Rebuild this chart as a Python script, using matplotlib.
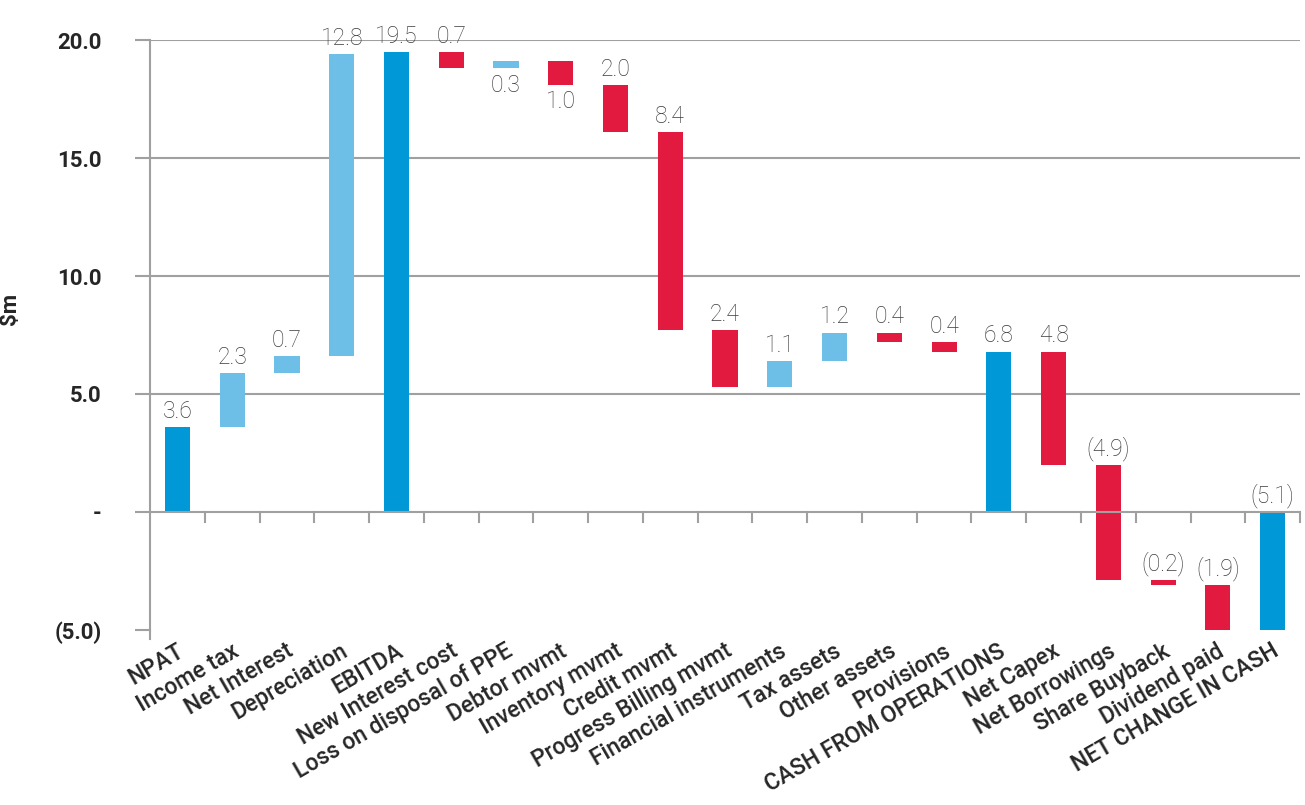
import numpy as np
import matplotlib
matplotlib.use("Agg")
import matplotlib.pyplot as plt
from matplotlib.transforms import offset_copy

categories = ["NPAT", "Income tax", "Net Interest", "Depreciation", "EBITDA",
              "New Interest cost", "Loss on disposal of PPE", "Debtor mvmt",
              "Inventory mvmt", "Credit mvmt", "Progress Billing mvmt",
              "Financial instruments", "Tax assets", "Other assets", "Provisions",
              "CASH FROM OPERATIONS", "Net Capex", "Net Borrowings",
              "Share Buyback", "Dividend paid", "NET CHANGE IN CASH"]
# signed change per step; totals hold the running value itself
values = [3.6, 2.3, 0.7, 12.8, 19.5, -0.7, 0.3, -1.0, -2.0, -8.4, -2.4,
          1.1, 1.2, -0.4, -0.4, 6.8, -4.8, -4.9, -0.2, -1.9, -5.1]
kinds = ["total", "step", "step", "step", "total", "step", "step", "step",
         "step", "step", "step", "step", "step", "step", "step", "total",
         "step", "step", "step", "step", "total"]
value_labels = ["3.6", "2.3", "0.7", "12.8", "19.5", "0.7", "0.3", "1.0", "2.0",
                "8.4", "2.4", "1.1", "1.2", "0.4", "0.4", "6.8", "4.8", "(4.9)",
                "(0.2)", "(1.9)", "(5.1)"]
label_below = ["Loss on disposal of PPE", "Debtor mvmt"]
yticks = [-5, 0, 5, 10, 15, 20]
ytick_labels = ["(5.0)", "-", "5.0", "10.0", "15.0", "20.0"]

c_total = "#0098d6"
c_up = "#6dbfe8"
c_down = "#e31a40"
c_grid = "#a0a0a0"
c_text = "#262626"

# bar ends
bottoms, tops, colors = [], [], []
running = 0.0
for v, k in zip(values, kinds):
    if k == "total":
        lo, hi = min(0, v), max(0, v)
        running = v
        colors.append(c_total)
    else:
        lo, hi = sorted([running, running + v])
        running += v
        colors.append(c_up if v > 0 else c_down)
    bottoms.append(lo)
    tops.append(hi)
bottoms = np.array(bottoms)
tops = np.array(tops)

fig = plt.figure(figsize=(13.05, 8.05), dpi=100)
ax = fig.add_axes([0.115, 0.2174, 0.8812, 0.7329])

x = np.arange(len(categories))
ax.bar(x, tops - bottoms, bottom=bottoms, width=0.46, color=colors, zorder=3)
ax.set_xlim(-0.5, len(categories) - 0.5)
ax.set_ylim(-5, 20)

# grid lines and zero axis
for t in yticks[2:]:
    ax.axhline(t, color=c_grid, lw=1.5, zorder=1)
ax.axhline(0, color=c_grid, lw=1.5, zorder=4)
for b in np.arange(0.5, len(categories) - 0.4, 1.0):
    ax.plot([b, b], [0, -0.42], color=c_grid, lw=1.5, zorder=4, clip_on=False)

for s in ["top", "right", "bottom"]:
    ax.spines[s].set_visible(False)
ax.spines["left"].set_color(c_grid)
ax.spines["left"].set_linewidth(1.5)
ax.plot([-0.5, -0.5], [-5, -5.4], color=c_grid, lw=1.5, clip_on=False)

ax.set_yticks(yticks)
ax.set_yticklabels(ytick_labels, fontsize=16, fontweight="bold", color=c_text,
                   family="Roboto")
ax.tick_params(axis="y", length=11, width=1.5, color=c_grid, pad=24)
ax.set_ylabel(r"\$m", fontsize=16, fontweight="bold", color=c_text, family="Roboto")
ax.yaxis.set_label_coords(-0.112, 0.544)

ax.set_xticks(x)
ax.set_xticklabels(categories, rotation=30, ha="right", va="baseline",
                   rotation_mode="anchor", fontsize=16.5, color=c_text,
                   family="Roboto", fontweight="medium")
ax.tick_params(axis="x", length=0, pad=18)
for t in ax.get_xticklabels():
    t.set_transform(offset_copy(t.get_transform(), fig=fig, x=8, y=0, units="dots"))

for i, lab in enumerate(value_labels):
    if categories[i] in label_below:
        ax.annotate(lab, (x[i], bottoms[i]), xytext=(0, -4), textcoords="offset points",
                    ha="center", va="top", fontsize=16.5, color="#3c3c3c",
                    family="Roboto", fontweight="light")
    else:
        ax.annotate(lab, (x[i], tops[i]), xytext=(0, 3), textcoords="offset points",
                    ha="center", va="bottom", fontsize=16.5, color="#3c3c3c",
                    family="Roboto", fontweight="light")

fig.savefig("out.png", dpi=100)
